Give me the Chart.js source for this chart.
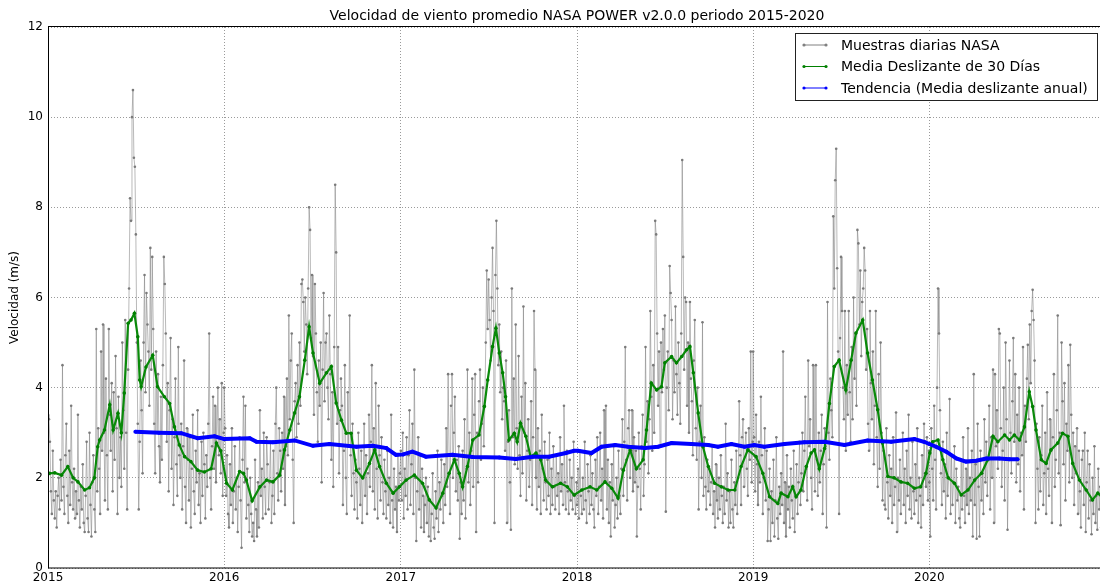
<!DOCTYPE html>
<html><head><meta charset="utf-8">
<script src="https://cdn.jsdelivr.net/npm/chart.js@4"></script>
<style>
html,body{margin:0;padding:0;background:#fff;overflow:hidden;width:1100px;height:587px}
#wrap{position:absolute;left:0;top:0;width:1110px;height:587px}
</style>
</head><body><div id="wrap"><canvas id="c" width="1110" height="587"></canvas></div>
<script>
// ---------- DATA ----------
const titulo = 'Velocidad de viento promedio NASA POWER v2.0.0 periodo 2015-2020';
const ejeY = 'Velocidad (m/s)';
const anios = [2015, 2016, 2017, 2018, 2019, 2020];
const etiquetasAnios = ['2015', '2016', '2017', '2018', '2019', '2020'];
const yTicks = [0, 2, 4, 6, 8, 10, 12];
const PASO_DIAS = 2; // daily samples read every 2 days

const muestras2015 = [3.4,3.3,2.8,1.7,1.2,2.6,1.5,1.1,1.7,0.9,1.6,2.0,1.3,2.4,1.5,4.5,
 1.8,1.2,2.5,3.2,1.6,1.0,2.6,1.4,3.6,1.9,1.3,2.2,1.1,1.7,
 1.2,3.4,1.5,0.9,1.8,1.3,2.3,1.0,0.8,1.6,2.8,1.1,0.8,3.0,1.4,
 0.7,1.9,2.5,1.3,0.8,5.3,1.7,3.1,2.2,1.2,4.8,2.6,5.4,3.0,1.5,
 4.2,2.5,1.3,5.3,3.4,2.6,4.1,1.7,3.9,2.4,4.7,3.1,1.2,3.8,2.0,2.9,
 1.8,5.0,3.5,2.2,5.5,3.0,1.3,4.4,6.2,8.2,7.7,10.0,10.6,9.1,8.9,
 7.4,5.0,3.2,1.3,2.8,4.6,3.5,2.1,5.0,6.5,3.9,6.1,5.4,4.8,3.6,
 7.1,4.4,6.9,5.3,3.2,2.1,4.8,3.0,4.3,2.7,1.9,3.8,2.4,4.5,6.9,6.3,
 5.2,2.8,4.1,1.7,3.5,5.1,2.2,3.3,1.4,2.9,4.2,2.3,1.6,4.9,2.5,
 2.0,3.2,1.3,2.7,4.6,1.8,1.0,3.1,2.4,1.5,2.9,0.9,2.2,3.4,1.7,
 1.2,2.6,1.9,3.5,1.4,2.1,1.0,2.8,1.6,3.0,2.3,1.1,2.5,1.8,3.2,
 5.2,2.0,1.3,2.7,3.8,2.2,3.6,1.9,2.9,4.0,2.5,3.3,2.1,4.1,1.6,3.0];
const muestras2016 = [4.0,3.1,1.6,2.5,1.2,0.9,2.3,1.4,3.1,1.0,1.7,2.7,1.3,2.0,0.8,1.8,
 2.9,1.5,0.45,2.4,3.8,1.9,3.6,1.1,2.2,1.4,0.8,2.0,1.2,0.7,
 1.0,0.6,2.4,1.3,0.7,1.9,0.9,3.5,1.6,2.2,1.1,3.0,1.8,1.2,2.9,
 2.3,1.3,1.9,2.8,1.0,1.6,2.6,1.2,3.2,4.0,2.1,1.5,3.1,2.6,1.7,
 3.0,2.2,3.8,1.4,2.7,4.2,2.5,5.6,3.3,4.6,5.2,2.4,1.0,3.7,4.1,2.9,
 4.5,3.2,5.0,3.6,6.3,6.4,5.9,4.8,6.0,5.4,4.3,6.2,8.0,7.5,5.1,
 6.5,4.7,3.4,6.3,5.2,3.9,2.8,4.6,3.6,5.0,1.9,4.4,6.1,3.7,5.0,
 5.2,4.0,3.3,5.6,4.3,2.4,3.9,1.8,4.9,8.5,7.0,3.2,4.9,2.1,3.5,4.2,
 3.6,1.4,2.6,4.5,2.0,1.2,3.9,2.7,5.6,2.5,1.6,3.2,2.1,1.3,2.4,
 1.9,1.1,3.0,2.2,1.4,2.6,1.0,2.0,3.2,1.6,2.5,1.2,2.1,3.4,1.8,
 2.8,4.5,1.7,3.1,1.3,4.1,2.2,1.1,3.6,2.5,1.5,2.9,1.9,1.2,2.4,
 1.7,1.1,2.6,1.4,2.0,1.0,3.4,1.5,0.9,2.2,1.3,1.8,0.8,2.5,1.5,2.1];
const muestras2017 = [2.6,1.5,3.0,1.1,2.2,1.6,2.9,1.3,2.5,3.5,1.4,2.3,3.2,1.2,4.4,2.0,
 0.6,1.7,2.9,1.3,2.5,0.9,2.2,1.6,0.8,1.4,2.0,1.0,1.8,0.7,
 1.5,0.6,1.2,2.1,0.9,0.65,1.7,1.1,2.6,0.8,1.9,1.3,2.4,1.6,1.0,
 2.3,1.4,3.1,1.8,4.3,2.5,1.2,3.6,4.3,2.0,3.0,3.8,1.7,2.4,1.5,
 2.7,0.65,1.9,1.2,2.6,1.5,3.3,1.1,2.2,4.4,1.9,3.0,1.4,2.6,4.2,1.8,
 3.4,4.3,0.8,3.0,1.9,3.7,4.4,2.4,3.2,4.0,2.7,3.6,5.0,6.6,5.3,
 6.4,5.5,4.6,6.0,7.1,5.7,1.0,6.5,7.7,6.2,4.5,5.4,3.9,4.8,3.3,
 4.0,3.7,2.6,4.6,1.0,2.8,3.5,1.9,0.85,6.2,2.9,4.2,2.3,5.4,3.1,2.2,
 4.7,2.5,1.6,3.8,2.1,5.8,3.0,4.1,1.5,2.6,3.3,1.8,2.4,3.7,1.4,
 2.9,5.7,4.4,2.0,1.3,3.1,1.8,2.6,1.2,3.4,2.2,1.5,2.8,1.9,1.3,
 2.4,1.6,3.0,1.2,2.2,1.4,2.7,1.8,1.3,2.5,1.6,2.1,1.2,2.9,1.7,
 2.3,1.4,3.6,1.9,1.3,2.6,1.7,1.2,2.4,1.5,2.0,1.3,2.8,1.6,1.2,1.9];
const muestras2018 = [1.4,2.2,1.1,2.6,1.6,1.2,2.0,1.3,2.8,1.5,1.0,2.3,1.7,1.2,2.5,1.4,
 2.1,1.3,0.9,2.4,1.6,2.9,1.2,1.8,3.0,1.5,2.2,1.1,3.5,1.9,
 3.6,1.3,2.4,1.0,1.9,0.7,2.3,1.5,2.7,0.9,1.4,2.0,1.1,2.6,1.6,
 1.2,2.2,3.3,1.6,2.8,4.9,2.4,1.5,3.1,3.5,2.0,2.6,3.5,1.7,2.9,
 1.9,2.6,0.7,1.8,3.0,2.2,1.3,2.7,3.4,1.6,2.3,4.9,2.8,3.7,2.1,3.3,
 5.7,3.8,2.6,4.5,3.0,7.7,7.4,5.2,3.6,4.8,2.7,5.0,3.9,5.3,4.4,
 5.6,1.25,4.0,4.8,3.5,6.7,6.1,5.5,3.3,4.6,3.9,5.8,4.3,3.4,5.0,
 4.1,3.2,5.2,9.05,6.9,4.4,6.0,5.9,3.6,5.0,3.0,5.9,4.2,3.7,2.5,4.6,
 5.5,3.1,2.4,4.0,1.3,2.8,3.6,2.0,5.45,1.6,2.9,1.8,1.3,2.4,1.7,
 2.2,1.4,1.9,2.7,1.2,1.7,0.9,2.3,1.5,1.1,2.0,1.3,2.5,1.6,1.0,
 1.8,1.2,3.2,1.5,2.1,0.9,1.7,1.0,2.4,1.3,0.9,1.9,1.4,2.6,1.2,
 2.0,3.7,2.5,1.4,2.9,3.3,1.8,2.7,3.0,2.2,1.6,3.1,2.4,4.8,1.9,2.8];
const muestras2019 = [4.8,2.9,1.7,3.4,2.3,1.4,2.8,1.9,3.8,2.5,1.2,2.0,3.1,1.5,2.6,0.6,
 1.3,2.2,0.6,1.7,1.0,2.4,0.7,1.5,2.9,1.1,0.65,1.8,1.2,2.1,
 1.4,4.8,1.0,1.9,0.7,2.5,1.3,1.8,0.9,2.2,1.5,1.1,2.6,0.8,1.6,
 2.3,1.2,1.9,2.8,1.4,2.1,3.0,1.7,2.6,3.8,2.2,1.5,4.6,2.7,3.3,
 2.0,1.3,4.5,2.8,1.7,4.5,2.4,1.6,3.0,1.9,2.6,3.4,1.2,2.3,3.1,2.7,
 0.9,5.9,3.0,2.4,4.2,3.5,2.9,7.8,6.2,8.6,9.3,6.65,4.8,1.2,5.1,
 6.9,5.7,4.0,3.3,5.7,2.6,4.5,3.4,5.7,3.9,2.8,4.9,3.3,6.0,4.2,
 5.2,3.6,7.5,7.2,5.4,6.6,4.7,5.9,6.2,7.1,6.6,4.4,5.3,3.2,2.6,5.7,
 4.1,3.3,4.8,2.3,3.6,5.7,2.9,1.8,4.3,2.2,5.0,3.0,1.5,2.6,1.4,
 1.3,3.1,1.9,1.1,2.5,1.6,2.2,1.0,2.9,1.4,1.8,3.45,0.8,2.0,1.5,
 2.4,1.2,1.9,3.0,1.4,2.2,1.0,2.6,1.6,3.4,1.3,2.0,1.1,2.8,1.7,
 1.2,2.3,1.5,3.1,1.0,2.0,1.6,0.9,2.5,1.4,3.2,2.1,1.8,2.9,1.5,2.6];
const muestras2020 = [1.9,0.7,3.1,2.2,1.5,3.6,2.4,1.3,4.0,6.2,5.2,3.5,2.1,1.4,2.8,1.7,
 2.3,1.1,3.0,1.6,2.0,3.75,1.2,2.5,1.4,1.9,2.7,1.0,2.2,1.5,
 1.8,1.1,0.9,2.4,1.3,2.9,1.6,1.0,2.2,1.4,3.1,1.2,2.0,1.5,2.6,
 0.7,4.3,1.4,2.3,0.65,3.2,1.8,0.7,2.6,1.5,2.1,1.2,3.3,1.9,2.8,
 1.6,2.4,3.6,1.3,2.9,2.0,4.4,1.0,4.3,2.7,3.5,2.2,5.3,5.2,3.1,1.8,
 2.6,4.0,1.5,5.0,3.3,0.85,2.4,4.6,3.0,2.1,3.7,5.1,2.8,4.3,1.9,
 3.4,2.3,4.0,1.7,3.0,2.5,4.9,1.3,3.6,2.8,4.2,4.95,3.3,5.4,4.1,
 5.7,6.17,5.5,4.6,1.0,3.2,2.2,1.3,2.9,1.7,2.5,3.6,1.4,2.1,3.0,1.2,
 3.9,2.2,1.6,3.3,2.6,1.0,2.9,4.3,1.8,2.4,3.5,5.6,2.1,3.0,0.95,
 5.0,3.7,2.3,4.1,1.5,3.2,2.6,4.5,1.9,4.95,3.4,2.0,3.0,1.4,2.7,
 2.1,3.1,1.2,2.6,1.7,0.9,2.4,2.6,1.4,3.0,0.8,1.9,2.6,1.1,2.3,
 1.5,0.75,2.0,1.2,2.7,1.0,1.6,0.85,2.2,1.3,1.8,0.9,2.5,1.4,1.1,1.7];

// 30-day moving average: [day of year, value]
const media2015 = [[3,2.1],[14,2.11],[28,2.06],[41,2.25],[52,2.0],[62,1.91],[76,1.73],[86,1.78],[96,2.0],[103,2.69],[107,2.84],[117,3.06],[128,3.62],[135,3.06],[145,3.43],[152,3.0],[158,3.88],[166,5.43],[172,5.5],[179,5.65],[186,5.13],[190,4.17],[193,4.02],[203,4.46],[217,4.72],[227,4.02],[241,3.8],[252,3.65],[262,3.13],[272,2.73],[283,2.47],[296,2.36],[310,2.17],[324,2.13],[338,2.2],[349,2.77],[358,2.6]];
const media2016 = [[5,1.88],[17,1.73],[32,2.14],[40,2.1],[46,1.95],[58,1.49],[74,1.8],[88,1.95],[101,1.91],[115,2.06],[125,2.62],[136,3.06],[146,3.44],[156,3.8],[167,4.61],[176,5.35],[184,4.77],[198,4.1],[212,4.33],[222,4.47],[232,3.66],[243,3.28],[253,2.99],[263,2.99],[274,2.17],[287,2.0],[301,2.32],[312,2.62],[322,2.25],[336,1.88],[350,1.66],[363,1.8]];
const media2017 = [[11,1.95],[28,2.06],[45,1.88],[59,1.51],[73,1.33],[87,1.66],[100,2.1],[111,2.4],[121,2.1],[128,1.8],[138,2.25],[149,2.84],[162,2.95],[173,3.58],[180,4.17],[190,4.91],[197,5.32],[204,4.77],[211,4.33],[217,3.8],[224,2.84],[235,2.99],[241,2.8],[248,3.21],[259,2.92],[269,2.47],[280,2.55],[290,2.4],[300,1.95],[314,1.8],[331,1.88],[345,1.8],[359,1.62]];
const media2018 = [[10,1.73],[27,1.8],[41,1.73],[58,1.91],[72,1.77],[85,1.55],[96,2.17],[110,2.62],[123,2.2],[137,2.4],[144,3.06],[154,4.1],[165,3.95],[175,4.02],[182,4.55],[196,4.69],[206,4.55],[217,4.69],[227,4.84],[234,4.91],[241,4.33],[251,3.44],[261,2.69],[272,2.25],[285,1.88],[299,1.8],[313,1.73],[327,1.73],[340,2.25],[354,2.62]];
const media2019 = [[6,2.47],[20,2.1],[34,1.58],[51,1.43],[58,1.66],[72,1.58],[82,1.8],[89,1.58],[99,1.73],[110,2.25],[120,2.55],[127,2.62],[137,2.2],[148,2.65],[158,3.65],[168,4.47],[178,4.61],[192,3.95],[203,4.61],[213,5.21],[227,5.5],[237,4.77],[247,4.17],[258,3.51],[268,2.77],[279,2.03],[292,2.0],[306,1.91],[320,1.88],[334,1.77],[347,1.8],[358,2.1]];
const media2020 = [[1,2.55],[7,2.8],[18,2.84],[28,2.4],[39,2.0],[52,1.88],[66,1.62],[80,1.73],[94,1.95],[108,2.1],[121,2.4],[132,2.92],[142,2.8],[156,2.95],[166,2.84],[176,2.95],[187,2.84],[197,3.13],[207,3.91],[214,3.58],[221,3.06],[232,2.4],[242,2.32],[252,2.62],[266,2.77],[276,2.99],[287,2.92],[297,2.32],[311,1.95],[325,1.73],[338,1.51],[349,1.66],[360,1.55]];

// Annual moving average (trend): [day of year, value]
const tendencia2015 = [[181,3.02],[230,3.0],[276,2.99],[310,2.88],[345,2.92]];
const tendencia2016 = [[0,2.86],[53,2.88],[67,2.8],[101,2.79],[146,2.83],[184,2.71],[218,2.75],[274,2.69],[308,2.71],[336,2.66],[356,2.51]];
const tendencia2017 = [[5,2.52],[24,2.58],[52,2.47],[107,2.51],[149,2.46],[204,2.45],[238,2.42],[273,2.47],[307,2.47],[342,2.55],[359,2.6]];
const tendencia2018 = [[2,2.6],[30,2.55],[51,2.69],[79,2.73],[106,2.69],[141,2.66],[168,2.69],[196,2.77],[237,2.75],[272,2.73],[292,2.69],[320,2.75],[347,2.69]];
const tendencia2019 = [[2,2.73],[23,2.69],[65,2.75],[106,2.79],[148,2.8],[189,2.73],[237,2.83],[286,2.8],[334,2.86],[354,2.8]];
const tendencia2020 = [[0,2.75],[14,2.69],[35,2.58],[56,2.43],[76,2.36],[97,2.38],[118,2.43],[145,2.43],[166,2.41],[183,2.41]];

const nombres = ['Muestras diarias NASA', 'Media Deslizante de 30 Días', 'Tendencia (Media deslizante anual)'];

// ---------- BUILD ----------
const DIA = 86400000;
const t0 = Date.UTC(anios[0], 0, 1);
const inicioAnio = anios.map(a => (Date.UTC(a, 0, 1) - t0) / DIA);
const finDia = (Date.UTC(anios[anios.length - 1] + 1, 0, 1) - t0) / DIA;

const muestras = [muestras2015, muestras2016, muestras2017, muestras2018, muestras2019, muestras2020];
const medias = [media2015, media2016, media2017, media2018, media2019, media2020];
const tendencias = [tendencia2015, tendencia2016, tendencia2017, tendencia2018, tendencia2019, tendencia2020];

const serieGris = [];
muestras.forEach((arr, k) => arr.forEach((v, i) => serieGris.push({x: inicioAnio[k] + i * PASO_DIAS, y: v})));
const serieVerde = [];
medias.forEach((arr, k) => arr.forEach(p => serieVerde.push({x: inicioAnio[k] + p[0], y: p[1]})));
const serieAzul = [];
tendencias.forEach((arr, k) => arr.forEach(p => serieAzul.push({x: inicioAnio[k] + p[0], y: p[1]})));

const FONT = 'DejaVu Sans';

const framePlugin = {
  id: 'frame',
  afterDatasetsDraw(chart) {
    const {ctx, chartArea: a} = chart;
    ctx.save();
    ctx.strokeStyle = '#000';
    ctx.lineWidth = 1;
    ctx.strokeRect(a.left + 0.5, a.top - 0.5, a.right - a.left, a.bottom - a.top + 0.5);
    ctx.restore();
  }
};

const legendPlugin = {
  id: 'legendBox',
  afterDraw(chart) {
    const {ctx, chartArea: a} = chart;
    const ds = chart.data.datasets;
    const items = [ds[2], ds[1], ds[0]];
    const bx = a.right - 311, by = a.top + 6, bw = 302, bh = 67;
    ctx.save();
    ctx.fillStyle = '#fff';
    ctx.fillRect(bx, by, bw, bh);
    ctx.strokeStyle = '#222';
    ctx.lineWidth = 1;
    ctx.strokeRect(bx + 0.5, by + 0.5, bw, bh);
    items.forEach((d, i) => {
      const y = by + 12 + i * 21.5;
      ctx.strokeStyle = d.legendColor;
      ctx.lineWidth = 1;
      ctx.beginPath(); ctx.moveTo(bx + 9, y); ctx.lineTo(bx + 31, y); ctx.stroke();
      ctx.fillStyle = d.legendColor;
      [bx + 9, bx + 31].forEach(px => { ctx.beginPath(); ctx.arc(px, y, 1.6, 0, Math.PI * 2); ctx.fill(); });
      ctx.fillStyle = '#000';
      ctx.font = '14px "' + FONT + '"';
      ctx.textBaseline = 'middle';
      ctx.textAlign = 'left';
      ctx.fillText(d.label, bx + 46, y + 1);
    });
    ctx.restore();
  }
};

new Chart(document.getElementById('c'), {
  type: 'line',
  data: {
    datasets: [
      {label: nombres[2], data: serieAzul, legendColor: '#0000ff', borderColor: '#0000ff', backgroundColor: '#0000ff',
       borderWidth: 4, pointRadius: 2, pointBorderWidth: 0, tension: 0, order: 0},
      {label: nombres[1], data: serieVerde, legendColor: '#008000', borderColor: '#0a8a0a', backgroundColor: '#008000',
       borderWidth: 2.2, pointRadius: 1.8, pointBorderWidth: 0, tension: 0, order: 1},
      {label: nombres[0], data: serieGris, legendColor: '#808080', borderColor: 'rgba(128,128,128,0.55)', backgroundColor: '#7a7a7a',
       borderWidth: 1, pointRadius: 1.3, pointBorderWidth: 0, tension: 0, order: 2}
    ]
  },
  options: {
    responsive: false,
    animation: false,
    devicePixelRatio: 1,
    layout: {padding: {left: 0, right: 2, top: 0, bottom: 0}},
    plugins: {
      legend: {display: false},
      tooltip: {enabled: false},
      title: {display: true, text: titulo, fullSize: false, color: '#000',
              font: {family: FONT, size: 14, weight: 'normal'}, padding: {top: 7.6, bottom: 2.6}}
    },
    scales: {
      x: {
        type: 'linear', min: 0, max: finDia,
        afterBuildTicks: s => { s.ticks = inicioAnio.map(v => ({value: v})); },
        afterFit: s => { s.height = 19; },
        ticks: {autoSkip: false, maxRotation: 0, padding: 3, color: '#000',
                font: {family: FONT, size: 12},
                callback: v => { const i = inicioAnio.indexOf(v); return i >= 0 ? etiquetasAnios[i] : ''; }},
        grid: {color: '#9a9a9a', lineWidth: 1, drawTicks: false},
        border: {display: false, dash: [1, 2]}
      },
      y: {
        min: 0, max: 12,
        afterBuildTicks: s => { s.ticks = yTicks.map(v => ({value: v})); },
        afterFit: s => { s.width = 48; },
        ticks: {padding: 5, color: '#000', font: {family: FONT, size: 12}},
        grid: {color: '#9a9a9a', lineWidth: 1, drawTicks: false},
        border: {display: false, dash: [1, 2]},
        title: {display: true, text: ejeY, color: '#000', font: {family: FONT, size: 12}, padding: {top: 8, bottom: 0}}
      }
    }
  },
  plugins: [framePlugin, legendPlugin]
});
</script>
</body></html>
